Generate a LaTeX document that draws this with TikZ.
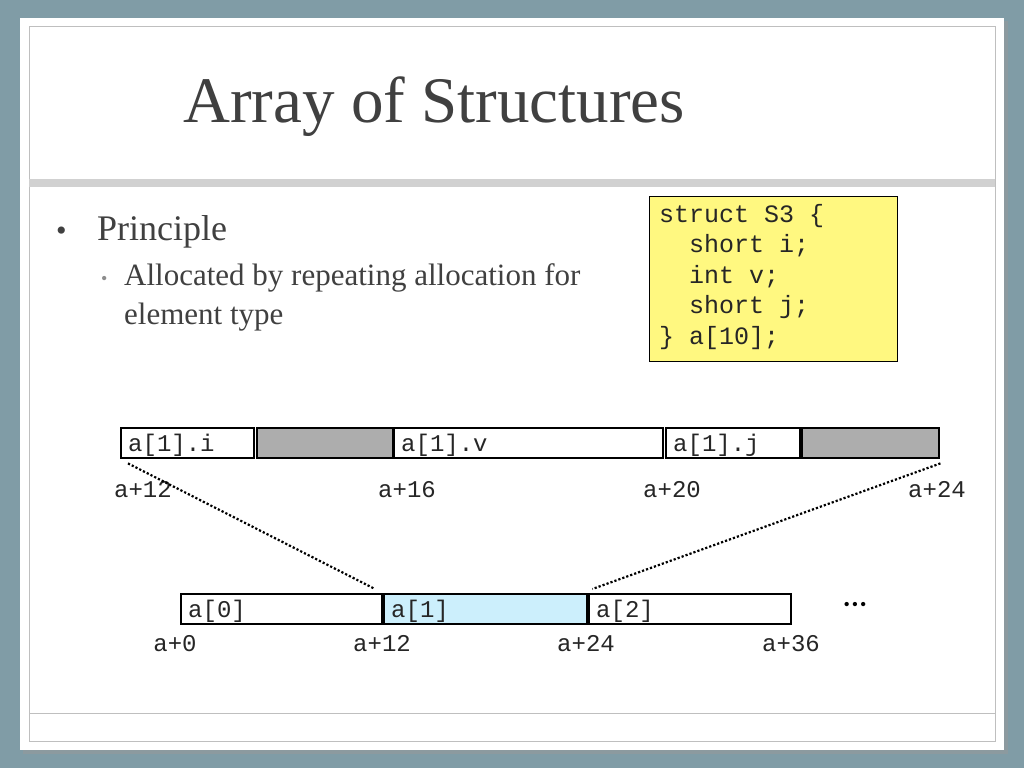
\documentclass[tikz,border=0pt]{standalone}
\usepackage{fontspec}
\setmainfont{Liberation Serif}
\setmonofont{Liberation Mono}
\begin{document}
\begin{tikzpicture}[x=1pt,y=-1pt,
  cell/.style={draw=black,line width=2.4pt,minimum height=30pt,inner sep=0pt,anchor=north west,text depth=0pt},
  lab/.style={font=\ttfamily\fontsize{24}{24}\selectfont,anchor=base,text=black!85},
  dots/.style={dotted,line width=2.2pt}]
\definecolor{bg}{HTML}{809CA6}
\definecolor{txt}{HTML}{404040}
\useasboundingbox (0,0) rectangle (1024,768);
\fill[bg] (0,0) rectangle (1024,768);
\fill[black!40,opacity=0.5] (23,21) rectangle (1008,754);
\fill[white] (20,18) rectangle (1004,750);
\draw[black!25,line width=1pt] (29,27) rectangle (995,741);
\fill[black!18] (29,179) rectangle (995,187);
\draw[black!25,line width=1pt] (29,713) -- (995,713);
\node[anchor=base west,text=txt,font=\fontsize{65}{65}\selectfont,inner sep=0pt] (title) at (183,122) {Array of Structures};
\node[anchor=base west,text=txt,font=\fontsize{30}{30}\selectfont,inner sep=0pt] (b1d) at (56,240) {•};
\node[anchor=base west,text=txt,font=\fontsize{36}{36}\selectfont,inner sep=0pt] (b1) at (97,240) {Principle};
\node[anchor=base west,text=txt!60,font=\fontsize{18}{18}\selectfont,inner sep=0pt] (b2d) at (101,284) {•};
\node[anchor=base west,text=txt,font=\fontsize{31}{31}\selectfont,inner sep=0pt] (b2) at (124,285) {Allocated by repeating allocation for};
\node[anchor=base west,text=txt,font=\fontsize{31}{31}\selectfont,inner sep=0pt] (b3) at (124,324) {element type};
\node[draw=black,fill=yellow!50,line width=0.8pt,anchor=north west,minimum width=248pt,minimum height=165pt] (code) at (649,196) {};
\node[anchor=north west,font=\ttfamily\fontsize{25}{30.5}\selectfont,align=left,inner sep=0pt,text=black!85] (ctext) at (659,204) {struct S3 \{\\\ \ short i;\\\ \ int v;\\\ \ short j;\\\} a[10];};
\begin{scope}[every node/.append style={font=\ttfamily\fontsize{24}{24}\selectfont,text=black!85}]
\node[cell,minimum width=133pt,text width=123pt,align=left] (ti) at (120,427) {\hspace*{2pt}a[1].i};
\node[cell,fill=black!32,minimum width=136pt] (tp1) at (256,427) {};
\node[cell,minimum width=269pt,text width=259pt,align=left] (tv) at (393,427) {\hspace*{2pt}a[1].v};
\node[cell,minimum width=134pt,text width=124pt,align=left] (tj) at (665,427) {\hspace*{2pt}a[1].j};
\node[cell,fill=black!32,minimum width=137pt] (tp2) at (801,427) {};
\node[cell,minimum width=201pt,text width=191pt,align=left] (m0) at (180,593) {\hspace*{2pt}a[0]};
\node[cell,fill=cyan!20,minimum width=203pt,text width=193pt,align=left] (m1) at (383,593) {\hspace*{2pt}a[1]};
\node[cell,minimum width=202pt,text width=192pt,align=left] (m2) at (588,593) {\hspace*{2pt}a[2]};
\end{scope}
\node[lab] (l12) at (143,497) {a+12};
\node[lab] (l16) at (407,497) {a+16};
\node[lab] (l20) at (672,497) {a+20};
\node[lab] (l24) at (937,497) {a+24};
\node[lab] (k0) at (175,651) {a+0};
\node[lab] (k12) at (382,651) {a+12};
\node[lab] (k24) at (586,651) {a+24};
\node[lab] (k36) at (791,651) {a+36};
\node[font=\fontsize{18}{18}\selectfont] (dd) at (855,606) {•\hspace{2pt}•\hspace{2pt}•};
\coordinate (c1) at ([xshift=8pt,yshift=-4pt]ti.south west);
\coordinate (c2) at ([xshift=-8pt,yshift=4pt]m1.north west);
\coordinate (c3) at ([yshift=-4pt]tp2.south east);
\coordinate (c4) at ([xshift=4pt,yshift=4pt]m1.north east);
\draw[dots] (c1) -- (c2);
\draw[dots] (c3) -- (c4);
\end{tikzpicture}
\end{document}
